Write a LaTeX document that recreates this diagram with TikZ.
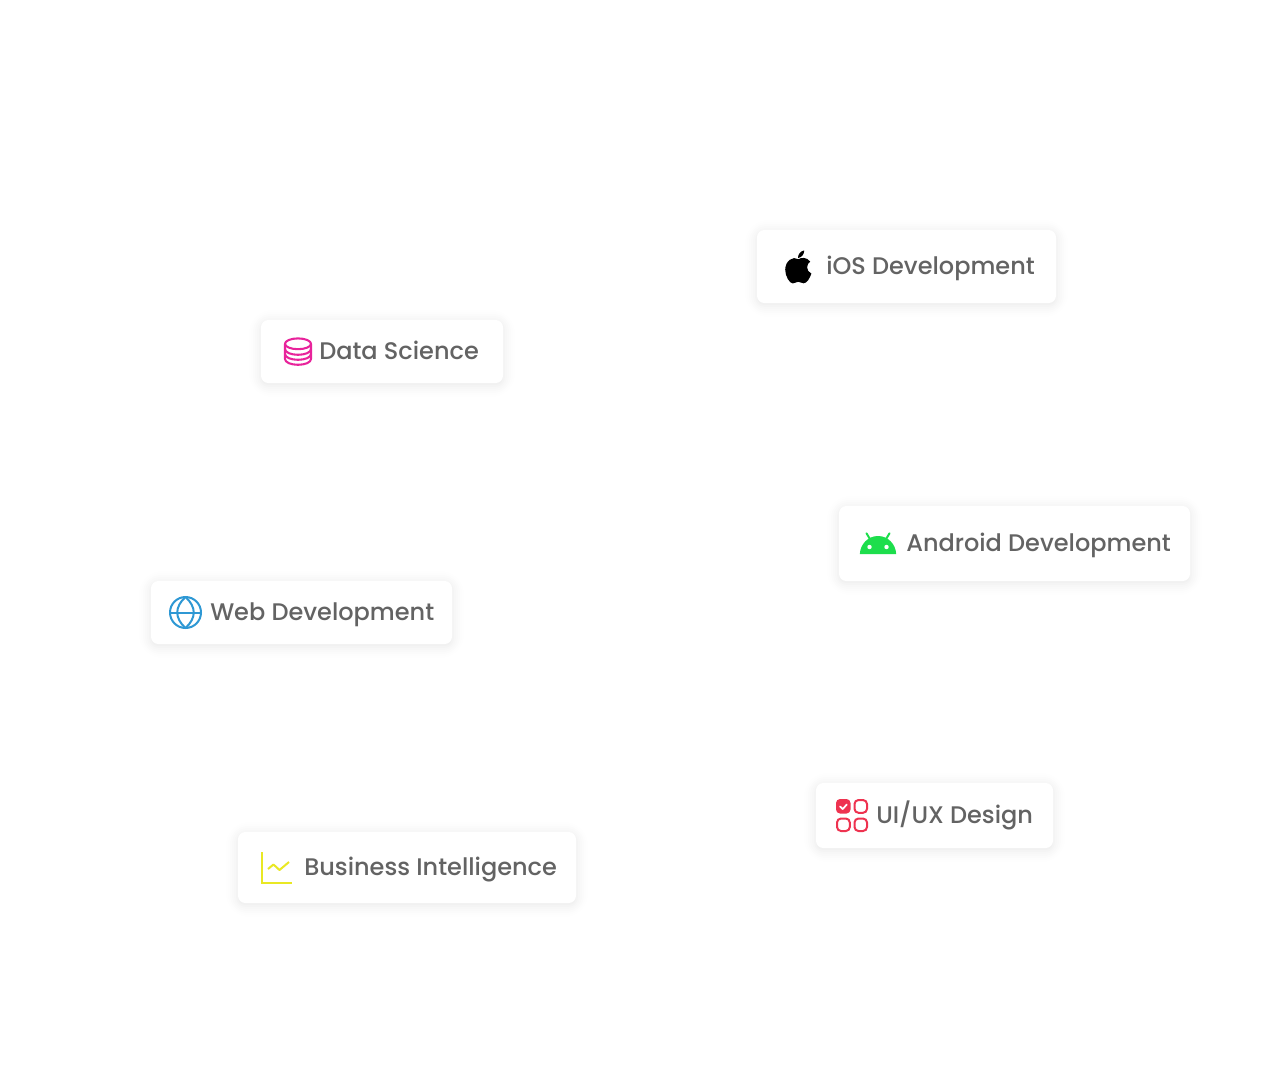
\documentclass[tikz,border=0pt]{standalone}
\usepackage{fontspec}
\setmainfont{Poppins}[UprightFont=* Medium]
\definecolor{labelgrey}{HTML}{636363}
\definecolor{dspink}{HTML}{E8239B}
\definecolor{andgreen}{HTML}{1DDE4C}
\definecolor{webblue}{HTML}{2E98D4}
\definecolor{uired}{HTML}{EE3350}
\definecolor{biyellow}{HTML}{E9E824}
\tikzset{
  lab/.style={anchor=base west,inner sep=0pt,text=labelgrey,font=\fontsize{18pt}{22pt}\selectfont},
  cardbox/.style={fill=white,rounded corners=5.5,draw=none},
  iconline/.style={line width=1.5pt,line cap=round,line join=round},
}
\newcommand{\cardshadow}[4]{%
  \foreach \g/\o in {12/0.004,10/0.005,8/0.006,6/0.007,4/0.009,2/0.010,0/0.012}{
    \fill[black,opacity=\o,rounded corners={5.5+\g}] (#1-\g,#2+2-\g) rectangle (#3+\g,#4+2+\g);
  }%
}
\begin{document}
\begin{tikzpicture}[x=0.75pt,y=-0.75pt]
\useasboundingbox (0,0) rectangle (1280,1067);
\fill[white] (0,0) rectangle (1280,1067);
% iOS
\cardshadow{757}{230}{1056}{303}
\fill[cardbox] (757,230) rectangle (1056,303);
\node[lab] (ios) at (826,274.5) {iOS Development};
\fill[black] (798.4,259.2) .. controls (801,257.6) and (806.5,256.6) .. (810.2,261.6)
  .. controls (806.2,264) and (805.6,271) .. (811.4,273.6)
  .. controls (810,277.6) and (807,283.4) .. (803.6,283.3)
  .. controls (801.4,283.2) and (800.6,281.8) .. (798.2,281.8)
  .. controls (795.8,281.8) and (794.8,283.3) .. (792.8,283.4)
  .. controls (789.4,283.4) and (785.2,276) .. (785.2,269.6)
  .. controls (785.2,261) and (793,255.6) .. (798.4,259.2) -- cycle;
\fill[black] (798,258) .. controls (797.8,254.4) and (800.6,251) .. (804.2,250.4)
  .. controls (804.4,254) and (801.6,257.6) .. (798,258) -- cycle;
% Data Science
\cardshadow{261}{320}{503}{383}
\fill[cardbox] (261,320) rectangle (503,383);
\node[lab] (ds) at (319,359.5) {Data Science};
\begin{scope}[iconline,draw=dspink,line width=1.55pt]
\draw (298,343.8) ellipse [x radius=13,y radius=5.4];
\draw (285,343.8) -- (285,359) .. controls (285,362.4) and (291,364.8) .. (298,364.8)
  .. controls (305,364.8) and (311,362.4) .. (311,359) -- (311,343.8);
\draw (285,349) .. controls (285,352.4) and (291,354.8) .. (298,354.8) .. controls (305,354.8) and (311,352.4) .. (311,349);
\draw (285,354) .. controls (285,357.4) and (291,359.8) .. (298,359.8) .. controls (305,359.8) and (311,357.4) .. (311,354);
\end{scope}
% Android
\cardshadow{839}{506}{1190}{581}
\fill[cardbox] (839,506) rectangle (1190,581);
\node[lab] (and) at (906,551.5) {Android Development};
\fill[andgreen] (859.8,554) .. controls (860.4,544) and (868,536) .. (878,536)
  .. controls (888,536) and (895.6,544) .. (896.2,554) -- cycle;
\draw[andgreen,line width=1.5pt,line cap=round] (866.5,533.3) -- (870.5,540);
\draw[andgreen,line width=1.5pt,line cap=round] (889.5,533.3) -- (885.5,540);
\fill[white] (869.5,547) circle (2.2);
\fill[white] (886.5,547) circle (2.2);
% Web
\cardshadow{151}{581}{452}{644}
\fill[cardbox] (151,581) rectangle (452,644);
\node[lab] (web) at (210,620.5) {Web Development};
\begin{scope}[iconline,draw=webblue]
\draw (185.5,612.5) circle (15.5);
\draw (170,612.5) -- (201,612.5);
\draw (185.5,597) .. controls (174.5,607) and (174.5,618) .. (185.5,628);
\draw (185.5,597) .. controls (196.5,607) and (196.5,618) .. (185.5,628);
\end{scope}
% UI/UX
\cardshadow{816}{783}{1053}{848}
\fill[cardbox] (816,783) rectangle (1053,848);
\node[lab] (ui) at (876,823.5) {UI/UX Design};
\fill[uired,rounded corners=3] (836,799) rectangle (850.5,813.5);
\draw[white,line width=1.3pt,line cap=round,line join=round] (840,806.5) -- (842.7,809) -- (846.8,804.5);
\begin{scope}[draw=uired,line width=1.5pt,rounded corners=3]
\draw (854.5,800) rectangle (867,812.8);
\draw (837,818.5) rectangle (849.8,831);
\draw (854.5,818.5) rectangle (867,831);
\end{scope}
% BI
\cardshadow{238}{832}{576}{903}
\fill[cardbox] (238,832) rectangle (576,903);
\node[lab] (bi) at (304,875.5) {Business Intelligence};
\draw[biyellow,line width=1.5pt] (261.5,852) -- (261.5,882.5) -- (292,882.5);
\draw[biyellow,line width=1.5pt,line join=round] (268,869) -- (273.5,864.5) -- (279.5,870) -- (289,862);
\end{tikzpicture}
\end{document}
